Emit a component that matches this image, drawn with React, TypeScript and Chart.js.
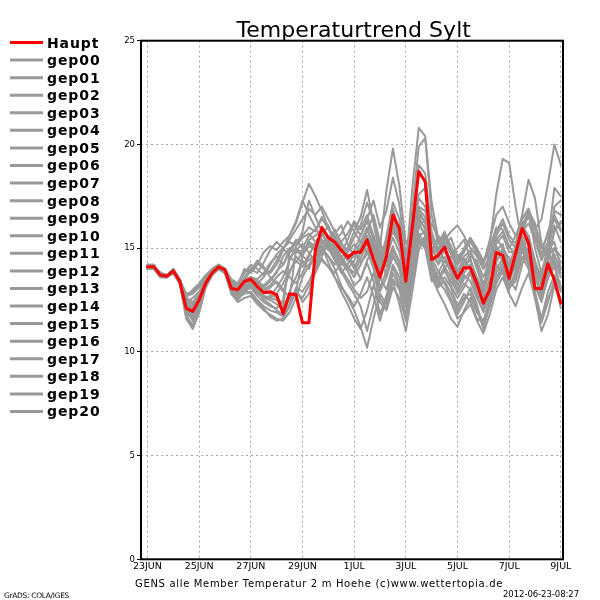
import { useEffect, useRef } from 'react';
import { Chart, registerables } from 'chart.js';

Chart.register(...registerables);

const TITLE = 'Temperaturtrend Sylt';
const FOOTER = 'GENS alle Member Temperatur 2 m Hoehe (c)www.wettertopia.de';
const CREDIT = 'GrADS: COLA/IGES';
const STAMP = '2012-06-23-08:27';

const STEP_HOURS = 6;
const TICK_HOURS = [0, 48, 96, 144, 192, 240, 288, 336, 384];
const TICK_LABELS = ['23JUN', '25JUN', '27JUN', '29JUN', '1JUL', '3JUL', '5JUL', '7JUL', '9JUL'];
const Y_MIN = 0;
const Y_MAX = 25;
const Y_STEP = 5;

const HAUPT_LABEL = 'Haupt';
const HAUPT = [
  14.1, 14.1, 13.7, 13.65, 13.9, 13.4, 12.1, 11.95, 12.5, 13.3, 13.8, 14.1, 13.95,
  13.05, 13.0, 13.4, 13.5, 13.15, 12.85, 12.9, 12.75, 11.85, 12.8, 12.75, 11.4, 11.4,
  14.9, 16.0, 15.5, 15.3, 14.9, 14.55, 14.8, 14.8, 15.4, 14.45, 13.6, 14.6, 16.6,
  15.95, 13.4, 16.0, 18.7, 18.2, 14.45, 14.65, 15.05, 14.2, 13.55, 14.05, 14.05, 13.3,
  12.35, 13.0, 14.8, 14.65, 13.55, 14.75, 15.95, 15.25, 13.05, 13.05, 14.25, 13.45, 12.35,
];

const MEMBER_LABELS = [
  'gep00', 'gep01', 'gep02', 'gep03', 'gep04', 'gep05', 'gep06', 'gep07', 'gep08', 'gep09', 'gep10',
  'gep11', 'gep12', 'gep13', 'gep14', 'gep15', 'gep16', 'gep17', 'gep18', 'gep19', 'gep20',
];

const GEP00 = [
  14.2, 14.1, 13.8, 13.7, 13.9, 13.5, 12.4, 12.2, 12.6, 13.4, 13.9, 14.1, 13.9,
  13.2, 13.0, 13.3, 13.6, 13.4, 13.2, 13.5, 13.8, 14.6, 15.0, 14.8, 14.9, 15.2,
  15.0, 15.4, 15.1, 14.6, 14.2, 14.8, 15.2, 14.9, 15.6, 14.8, 14.0, 14.9, 15.8,
  15.2, 14.1, 15.3, 16.8, 16.2, 14.6, 14.3, 14.9, 14.1, 13.6, 14.2, 14.4, 13.6,
  12.9, 13.8, 15.1, 14.6, 13.9, 14.6, 15.4, 14.8, 13.6, 13.9, 14.8, 14.2, 13.1,
];
const GEP01 = [
  14.1, 14.0, 13.7, 13.6, 13.8, 13.3, 11.9, 11.6, 12.2, 13.2, 13.8, 14.1, 13.8,
  12.9, 12.7, 13.1, 13.3, 13.0, 12.7, 12.6, 12.5, 12.1, 14.8, 15.3, 15.6, 16.0,
  15.8, 16.5, 15.9, 15.5, 15.0, 14.4, 14.6, 15.3, 16.0, 14.9, 13.8, 15.6, 17.2,
  16.4, 14.0, 17.9, 20.8, 20.4, 16.6, 15.2, 15.8, 14.8, 13.9, 14.5, 14.0, 12.9,
  12.2, 13.1, 14.9, 15.2, 14.0, 14.8, 16.1, 15.6, 14.1, 13.2, 14.9, 15.3, 14.0,
];
const GEP02 = [
  14.0, 14.1, 13.8, 13.7, 14.0, 13.5, 12.8, 12.9, 13.2, 13.6, 13.9, 14.2, 14.0,
  13.4, 13.2, 14.0, 13.8, 14.2, 14.8, 15.1, 14.9, 15.3, 15.6, 16.2, 17.2, 18.1,
  17.5, 16.8, 16.0, 15.2, 14.6, 14.1, 13.8, 14.5, 15.2, 14.3, 13.1, 13.9, 15.0,
  14.4, 13.2, 14.8, 16.5, 15.9, 14.2, 13.5, 14.1, 13.6, 13.0, 13.5, 13.9, 13.1,
  12.6, 13.5, 14.2, 13.8, 13.0, 13.9, 15.0, 15.4, 14.2, 13.6, 15.2, 16.1, 15.3,
];
const GEP03 = [
  14.2, 14.2, 13.7, 13.6, 13.9, 13.4, 12.0, 11.5, 12.3, 13.3, 13.8, 14.1, 13.9,
  13.0, 12.9, 13.2, 13.4, 13.0, 12.5, 12.3, 12.0, 11.8, 12.6, 14.9, 15.2, 14.8,
  14.3, 15.0, 14.6, 14.0, 13.2, 12.6, 12.0, 11.2, 10.2, 11.6, 12.8, 12.3, 13.5,
  13.0, 11.5, 13.6, 15.4, 15.0, 13.4, 13.8, 14.4, 13.9, 12.8, 13.3, 13.0, 12.1,
  11.4, 12.6, 13.8, 14.3, 13.1, 13.6, 14.5, 14.9, 13.8, 12.5, 13.6, 14.4, 13.6,
];
const GEP04 = [
  14.1, 14.0, 13.6, 13.6, 13.8, 13.3, 12.2, 12.0, 12.4, 13.2, 13.7, 14.0, 13.9,
  13.1, 13.1, 13.5, 13.6, 13.3, 13.6, 14.2, 14.7, 15.0, 15.3, 15.1, 15.5, 15.7,
  15.3, 15.0, 15.4, 15.9, 15.2, 14.9, 15.5, 16.1, 17.2, 16.3, 15.0, 17.8, 19.8,
  18.0, 15.2, 15.8, 17.6, 17.9, 15.4, 14.7, 15.1, 14.0, 13.4, 14.0, 14.6, 14.4,
  13.6, 14.3, 15.5, 15.0, 14.2, 15.1, 16.4, 16.9, 15.0, 13.8, 14.2, 15.9, 16.2,
];
const GEP05 = [
  14.0, 14.1, 13.8, 13.7, 13.9, 13.5, 12.5, 12.3, 12.7, 13.4, 13.9, 14.2, 14.0,
  13.3, 13.1, 13.5, 13.9, 14.4, 14.1, 13.6, 13.3, 12.9, 13.8, 14.6, 14.3, 14.1,
  14.6, 15.2, 15.6, 15.1, 14.5, 15.0, 15.8, 15.3, 14.8, 15.6, 14.4, 15.0, 16.0,
  15.1, 13.9, 14.6, 16.2, 15.6, 14.8, 15.6, 15.3, 14.7, 15.0, 15.4, 14.5, 13.4,
  12.8, 15.2, 17.6, 19.3, 19.1, 17.0, 15.2, 14.3, 13.5, 12.9, 13.8, 15.0, 14.6,
];
const GEP06 = [
  14.2, 14.1, 13.7, 13.6, 13.9, 13.4, 12.0, 11.8, 12.4, 13.3, 13.8, 14.1, 13.9,
  13.0, 12.8, 13.1, 13.2, 12.8, 12.6, 12.5, 12.3, 12.0, 12.9, 13.6, 14.4, 14.0,
  14.8, 14.4, 14.1, 13.8, 14.3, 14.7, 14.2, 13.5, 14.4, 15.1, 14.6, 14.1, 14.9,
  14.3, 13.1, 14.5, 15.7, 15.2, 13.8, 13.3, 14.0, 14.6, 14.2, 14.9, 15.3, 14.8,
  14.0, 14.5, 15.4, 15.8, 15.1, 14.6, 15.8, 16.6, 15.9, 16.4, 18.1, 20.0, 19.0,
];
const GEP07 = [
  14.1, 14.0, 13.7, 13.7, 13.9, 13.4, 12.3, 12.1, 12.5, 13.3, 13.8, 14.1, 13.9,
  13.1, 13.0, 13.2, 13.3, 13.1, 12.9, 12.8, 12.6, 12.3, 12.5, 13.0, 12.4, 12.8,
  14.0, 14.6, 15.3, 14.8, 14.0, 13.5, 13.0, 12.6, 12.9, 13.8, 12.6, 12.1, 13.4,
  12.3, 11.0, 12.9, 14.9, 15.6, 16.2, 15.5, 14.0, 13.2, 12.6, 13.1, 13.8, 12.7,
  11.9, 12.8, 14.0, 14.5, 13.6, 14.1, 15.0, 14.6, 13.2, 12.4, 13.6, 14.1, 13.0,
];
const GEP08 = [
  14.0, 14.1, 13.8, 13.7, 13.9, 13.5, 12.6, 12.4, 12.8, 13.4, 13.9, 14.2, 14.0,
  13.2, 13.0, 13.4, 13.6, 13.5, 13.8, 14.3, 14.6, 14.2, 14.9, 15.4, 15.0, 15.6,
  15.9, 16.4, 16.0, 15.4, 15.7, 16.3, 15.8, 16.5, 17.8, 16.2, 14.6, 15.4, 16.4,
  15.5, 14.4, 15.1, 16.9, 16.5, 15.0, 14.5, 15.2, 15.5, 14.6, 14.9, 15.5, 14.6,
  14.0, 14.6, 15.6, 16.2, 15.4, 15.0, 16.0, 16.8, 16.2, 15.0, 15.6, 16.4, 15.8,
];
const GEP09 = [
  14.1, 14.1, 13.7, 13.6, 13.9, 13.3, 11.7, 11.3, 12.1, 13.2, 13.7, 14.0, 13.8,
  12.9, 12.6, 12.8, 12.9, 12.5, 12.2, 12.0, 11.9, 11.7, 12.3, 13.1, 12.9, 13.4,
  14.1, 14.9, 15.4, 15.0, 14.3, 13.9, 13.2, 13.5, 14.3, 13.4, 11.8, 12.7, 14.1,
  13.3, 12.2, 13.9, 15.6, 15.8, 14.5, 13.9, 13.3, 12.5, 11.8, 12.4, 13.1, 12.3,
  11.1, 12.3, 13.6, 14.0, 13.2, 13.8, 14.9, 14.2, 12.9, 11.5, 12.6, 13.2, 12.4,
];
const GEP10 = [
  14.0, 14.0, 13.7, 13.6, 13.8, 13.4, 12.4, 12.6, 12.9, 13.5, 13.9, 14.1, 13.9,
  13.2, 13.1, 13.6, 14.0, 14.3, 14.0, 13.8, 14.2, 14.9, 15.6, 16.3, 17.3, 16.6,
  16.0, 15.4, 14.9, 15.0, 15.3, 14.6, 14.0, 14.8, 15.5, 14.5, 13.5, 14.8, 16.9,
  15.8, 13.6, 16.8, 19.9, 20.3, 17.2, 15.5, 15.0, 14.4, 13.8, 14.3, 14.8, 14.2,
  13.3, 13.9, 14.8, 14.4, 13.5, 14.4, 15.6, 15.1, 13.9, 13.4, 14.6, 15.0, 14.3,
];
const GEP11 = [
  14.2, 14.1, 13.8, 13.7, 13.9, 13.4, 12.2, 11.8, 12.3, 13.2, 13.8, 14.1, 13.9,
  13.0, 12.8, 13.2, 13.4, 13.2, 12.9, 13.1, 13.4, 13.0, 12.6, 12.9, 14.6, 15.4,
  15.6, 15.9, 15.5, 15.7, 16.1, 15.2, 14.6, 15.0, 15.8, 16.6, 15.3, 14.3, 15.1,
  14.2, 12.9, 14.0, 16.0, 16.4, 15.1, 14.2, 14.6, 13.8, 13.2, 13.8, 14.2, 13.5,
  12.4, 13.2, 14.3, 15.0, 14.5, 14.0, 15.2, 15.6, 14.4, 13.5, 14.4, 17.0, 17.3,
];
const GEP12 = [
  14.1, 14.0, 13.6, 13.6, 13.8, 13.3, 11.8, 11.2, 11.9, 13.1, 13.7, 14.0, 13.8,
  12.8, 12.5, 12.9, 13.1, 12.7, 12.4, 12.2, 12.1, 12.5, 14.5, 14.9, 14.6, 14.4,
  14.7, 15.3, 15.0, 14.5, 13.8, 14.2, 14.9, 14.3, 14.7, 15.3, 14.9, 13.6, 14.7,
  14.0, 12.8, 14.2, 16.1, 15.7, 14.0, 13.4, 13.0, 12.4, 11.6, 11.9, 12.3, 11.5,
  10.9, 11.8, 13.0, 13.6, 12.8, 12.2, 13.1, 13.8, 12.6, 11.0, 11.8, 13.2, 12.5,
];
const GEP13 = [
  14.0, 14.1, 13.7, 13.7, 14.0, 13.5, 12.6, 13.0, 13.3, 13.7, 14.0, 14.2, 14.0,
  13.5, 13.3, 13.8, 14.2, 14.0, 13.7, 13.9, 14.4, 15.0, 14.6, 14.3, 14.8, 15.3,
  15.1, 14.7, 15.2, 15.6, 15.0, 14.4, 14.9, 15.6, 16.3, 15.4, 14.2, 15.1, 16.2,
  15.3, 14.2, 15.0, 17.0, 16.8, 15.4, 14.7, 15.4, 15.8, 16.1, 15.6, 15.0, 14.6,
  14.2, 15.4, 16.6, 17.0, 16.2, 15.6, 16.4, 16.9, 16.0, 14.6, 15.3, 17.9, 17.5,
];
const GEP14 = [
  14.2, 14.1, 13.7, 13.6, 13.9, 13.4, 12.1, 11.7, 12.3, 13.3, 13.8, 14.1, 13.9,
  12.9, 12.7, 13.0, 13.2, 12.9, 12.6, 12.7, 13.1, 13.6, 14.4, 15.1, 15.8, 17.3,
  16.5, 15.8, 15.0, 14.4, 13.9, 13.3, 12.8, 12.2, 11.0, 12.3, 13.6, 13.0, 14.2,
  13.6, 12.4, 14.1, 16.3, 16.0, 14.3, 13.6, 13.9, 13.4, 12.9, 13.7, 13.4, 12.6,
  12.0, 13.0, 14.4, 14.9, 14.0, 14.5, 15.3, 14.5, 13.0, 12.8, 14.0, 14.7, 13.8,
];
const GEP15 = [
  14.1, 14.0, 13.8, 13.7, 13.9, 13.4, 12.3, 11.9, 12.4, 13.3, 13.8, 14.1, 13.9,
  13.1, 13.0, 13.3, 13.5, 13.3, 13.0, 13.2, 13.6, 13.9, 13.6, 13.3, 13.8, 14.6,
  15.3, 15.7, 15.2, 14.8, 14.4, 14.0, 14.4, 15.0, 15.9, 15.2, 14.0, 14.6, 15.5,
  14.8, 13.5, 14.9, 16.6, 16.3, 14.9, 14.9, 15.7, 15.1, 14.4, 14.8, 15.4, 14.9,
  14.3, 14.9, 15.8, 16.4, 15.6, 15.2, 16.6, 18.3, 17.4, 15.2, 14.6, 15.8, 16.3,
];
const GEP16 = [
  14.0, 14.1, 13.7, 13.6, 13.8, 13.4, 12.0, 11.6, 12.2, 13.2, 13.7, 14.0, 13.8,
  12.8, 12.4, 12.6, 12.7, 12.3, 12.0, 11.8, 11.6, 11.5, 11.9, 12.6, 13.6, 14.2,
  14.6, 15.1, 14.3, 13.6, 12.9, 12.3, 11.6, 11.1, 12.0, 13.2, 12.4, 12.0, 13.1,
  12.6, 11.6, 13.4, 15.2, 15.4, 14.1, 13.2, 13.6, 13.1, 12.2, 12.8, 12.4, 11.6,
  11.4, 12.5, 13.6, 14.1, 13.4, 14.2, 15.1, 14.3, 12.8, 11.6, 12.9, 13.7, 12.9,
];
const GEP17 = [
  14.1, 14.1, 13.8, 13.7, 13.9, 13.5, 12.4, 12.1, 12.6, 13.4, 13.9, 14.2, 14.0,
  13.2, 13.1, 13.4, 13.6, 13.4, 13.1, 13.4, 13.9, 14.2, 14.8, 15.0, 14.7, 15.1,
  14.9, 15.6, 16.1, 15.3, 14.8, 15.4, 16.2, 15.6, 16.4, 17.3, 16.0, 16.8, 18.4,
  17.1, 14.6, 16.4, 19.0, 18.6, 15.8, 14.8, 15.6, 14.8, 14.2, 14.6, 14.9, 14.0,
  13.1, 14.2, 15.2, 15.6, 14.8, 14.8, 15.8, 16.2, 15.4, 14.4, 15.1, 16.8, 16.6,
];
const GEP18 = [
  14.2, 14.2, 13.7, 13.7, 13.9, 13.4, 12.2, 12.0, 12.5, 13.3, 13.8, 14.1, 13.9,
  13.1, 12.9, 13.2, 13.4, 13.0, 12.7, 12.6, 12.8, 13.3, 13.9, 14.4, 14.1, 14.7,
  15.2, 15.0, 14.6, 14.2, 14.6, 14.1, 13.6, 14.2, 14.9, 14.0, 12.9, 13.6, 14.6,
  14.0, 12.6, 13.8, 15.5, 15.1, 13.6, 12.9, 12.3, 11.6, 11.2, 12.0, 12.6, 11.9,
  11.5, 12.3, 13.3, 14.1, 13.5, 13.0, 14.2, 15.0, 14.0, 12.7, 13.5, 14.6, 14.0,
];
const GEP19 = [
  14.0, 14.0, 13.6, 13.6, 13.8, 13.3, 12.7, 12.8, 13.1, 13.6, 14.0, 14.2, 14.0,
  13.4, 13.3, 13.9, 14.0, 13.8, 14.3, 14.9, 15.3, 15.0, 15.4, 15.9, 16.4, 16.9,
  16.6, 17.0, 16.4, 15.8, 15.3, 15.7, 16.3, 15.9, 16.6, 15.6, 14.5, 15.3, 16.6,
  15.6, 14.5, 15.5, 17.4, 17.0, 15.6, 15.0, 15.3, 14.9, 14.4, 15.0, 15.5, 15.0,
  14.4, 15.0, 16.0, 15.9, 15.0, 15.6, 16.2, 16.5, 15.6, 14.7, 15.8, 16.6, 15.9,
];
const GEP20 = [
  14.1, 14.0, 13.7, 13.7, 13.9, 13.3, 11.6, 11.1, 11.9, 13.1, 13.7, 14.0, 13.8,
  12.9, 12.6, 13.0, 12.8, 12.4, 12.1, 11.7, 11.5, 11.6, 12.2, 12.9, 12.6, 13.2,
  13.8, 14.5, 14.1, 13.6, 13.1, 12.7, 12.2, 12.8, 13.6, 12.7, 11.5, 12.6, 13.8,
  13.1, 11.8, 13.5, 15.3, 15.0, 13.8, 13.1, 13.4, 12.8, 12.0, 12.6, 12.8, 12.0,
  11.2, 12.2, 13.3, 13.9, 13.1, 13.4, 14.6, 14.0, 12.6, 11.4, 12.4, 13.5, 12.1,
];

const MEMBERS = [
  GEP00, GEP01, GEP02, GEP03, GEP04, GEP05, GEP06, GEP07, GEP08, GEP09, GEP10,
  GEP11, GEP12, GEP13, GEP14, GEP15, GEP16, GEP17, GEP18, GEP19, GEP20,
];

const RED = '#ff0000';
const GREY = '#999999';
const GRID = '#a6a6a6';
const FONT = '"DejaVu Sans", sans-serif';

function drawFitted(
  ctx: CanvasRenderingContext2D,
  text: string,
  left: number,
  baseline: number,
  width: number,
  font: string,
) {
  ctx.font = font;
  (ctx as any).letterSpacing = '0px';
  const w = ctx.measureText(text).width;
  const ls = (width - w) / text.length;
  (ctx as any).letterSpacing = `${ls}px`;
  ctx.textAlign = 'left';
  ctx.textBaseline = 'alphabetic';
  ctx.fillText(text, left, baseline);
  (ctx as any).letterSpacing = '0px';
}

const extrasPlugin = {
  id: 'gradsExtras',
  afterDraw(chart: any) {
    const { ctx, chartArea: a } = chart;
    ctx.save();
    // frame
    ctx.strokeStyle = '#000';
    ctx.lineWidth = 2;
    ctx.strokeRect(a.left, a.top, a.right - a.left, a.bottom - a.top);

    ctx.fillStyle = '#000';
    // title
    drawFitted(ctx, TITLE, 236.5, 37.3, 234.5, `22px ${FONT}`);

    // legend
    const rowTop = 42.5;
    const rowStep = 17.57;
    chart.data.datasets.forEach((ds: any, k: number) => {
      const y = rowTop + k * rowStep;
      ctx.strokeStyle = ds.borderColor;
      ctx.lineWidth = 3;
      ctx.beginPath();
      ctx.moveTo(10, y);
      ctx.lineTo(43, y);
      ctx.stroke();
      ctx.fillStyle = '#000';
      ctx.font = `bold 14px ${FONT}`;
      (ctx as any).letterSpacing = '0.9px';
      ctx.textAlign = 'left';
      ctx.textBaseline = 'alphabetic';
      ctx.fillText(ds.label, 47, y + 5);
      (ctx as any).letterSpacing = '0px';
    });

    // footers
    ctx.fillStyle = '#000';
    drawFitted(ctx, FOOTER, 135, 586.7, 368, `10px ${FONT}`);
    drawFitted(ctx, CREDIT, 4, 598, 65, `7.5px ${FONT}`);
    drawFitted(ctx, STAMP, 503, 597, 76, `8.5px ${FONT}`);
    ctx.restore();
  },
};

export default function App() {
  const ref = useRef<HTMLCanvasElement>(null);

  useEffect(() => {
    const canvas = ref.current;
    if (!canvas) return;
    const toPoints = (vals: number[]) => vals.map((v, i) => ({ x: i * STEP_HOURS, y: v }));
    const datasets: any[] = [
      { label: HAUPT_LABEL, data: toPoints(HAUPT), borderColor: RED, borderWidth: 3 },
      ...MEMBERS.map((m, k) => ({
        label: MEMBER_LABELS[k],
        data: toPoints(m),
        borderColor: GREY,
        borderWidth: 2,
      })),
    ];

    const chart = new Chart(canvas, {
      type: 'line',
      data: { datasets },
      options: {
        responsive: false,
        animation: false,
        devicePixelRatio: 1,
        layout: { padding: { left: 101, top: 40.7, right: 37, bottom: 20.7 } },
        elements: {
          point: { radius: 0 },
          line: { tension: 0, borderJoinStyle: 'round', borderCapStyle: 'round' },
        },
        plugins: {
          legend: { display: false },
          title: { display: false },
          tooltip: { enabled: false },
        },
        scales: {
          x: {
            type: 'linear',
            min: -6,
            max: 386,
            afterBuildTicks: (s: any) => {
              s.ticks = TICK_HOURS.map((v) => ({ value: v }));
            },
            afterFit: (s: any) => {
              s.height = 20;
            },
            ticks: {
              autoSkip: false,
              maxRotation: 0,
              padding: 2,
              color: '#000',
              font: { family: FONT, size: 9.5 },
              callback: (_v: any, i: number) => TICK_LABELS[i] ?? '',
            },
            grid: { color: GRID, lineWidth: 1, drawTicks: false },
            border: { display: false, dash: [2, 3] },
          },
          y: {
            min: Y_MIN,
            max: Y_MAX,
            afterFit: (s: any) => {
              s.width = 40;
            },
            ticks: {
              stepSize: Y_STEP,
              padding: 2,
              color: '#000',
              font: { family: FONT, size: 8.5 },
            },
            grid: { color: GRID, lineWidth: 1, drawTicks: true, tickLength: 4, tickColor: '#000' },
            border: { display: false, dash: [2, 3] },
          },
        },
      },
      plugins: [extrasPlugin],
    });
    return () => chart.destroy();
  }, []);

  return (
    <div style={{ position: 'absolute', left: 0, top: 0, width: 600, height: 600, background: '#fff' }}>
      <canvas ref={ref} width={600} height={600} style={{ display: 'block' }} />
    </div>
  );
}
